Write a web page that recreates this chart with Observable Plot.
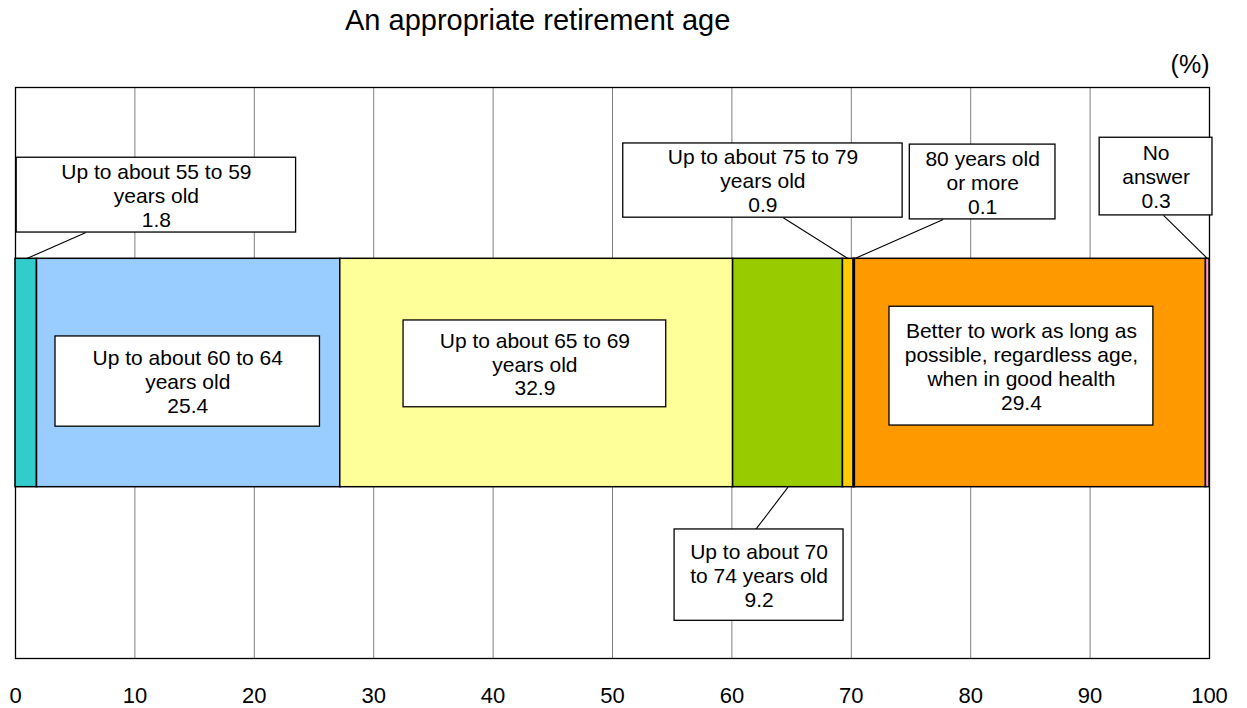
<!DOCTYPE html>
<html>
<head>
<meta charset="utf-8">
<script src="https://cdn.jsdelivr.net/npm/d3@7"></script>
<script src="https://cdn.jsdelivr.net/npm/@observablehq/plot@0.6"></script>
<style>
  html, body { margin: 0; padding: 0; background: #ffffff; }
  #header {
    position: relative;
    height: 48px;
    font-family: "Liberation Sans", Arial, sans-serif;
  }
  #title {
    position: absolute;
    left: 345px;
    top: 6px;
    font-size: 29px;
    line-height: 29px;
    color: #000;
    white-space: nowrap;
  }
  #chart svg { display: block; }
</style>
</head>
<body>
<div id="header"><div id="title">An appropriate retirement age</div></div>
<div id="chart"></div>
<script>
// Survey answers: share of respondents (%) for each retirement-age answer
const categories = [
  "Up to about 55 to 59 years old",
  "Up to about 60 to 64 years old",
  "Up to about 65 to 69 years old",
  "Up to about 70 to 74 years old",
  "Up to about 75 to 79 years old",
  "80 years old or more",
  "Better to work as long as possible, regardless age, when in good health",
  "No answer"
];
const values = [1.8, 25.4, 32.9, 9.2, 0.9, 0.1, 29.4, 0.3];

// Line-broken label text for each callout (the value is appended below it)
const labelLines = [
  ["Up to about 55 to 59", "years old"],
  ["Up to about 60 to 64", "years old"],
  ["Up to about 65 to 69", "years old"],
  ["Up to about 70", "to 74 years old"],
  ["Up to about 75 to 79", "years old"],
  ["80 years old", "or more"],
  ["Better to work as long as", "possible, regardless age,", "when in good health"],
  ["No", "answer"]
];

const tickValues = [0, 10, 20, 30, 40, 50, 60, 70, 80, 90, 100];

// Segment fills
const colors = ["#33CCCC", "#99CCFF", "#FFFF99", "#99CC00", "#FFCC00", "#993300", "#FF9900", "#FF99CC"];

// Callout boxes: x in %, y as fraction of the frame height (bar spans 0.3–0.7);
// "leader" says whether a line joins the box to its segment (from top or bottom edge)
const calloutLayout = [
  { x1: 0.1, x2: 23.5, y1: 0.746, y2: 0.877, leader: "top", lx: 5.9 },
  { x1: 3.35, x2: 25.5, y1: 0.406, y2: 0.564, leader: null },
  { x1: 32.5, x2: 54.5, y1: 0.440, y2: 0.592, leader: null },
  { x1: 55.2, x2: 69.35, y1: 0.066, y2: 0.226, leader: "bottom", lx: 62.0 },
  { x1: 50.9, x2: 74.3, y1: 0.772, y2: 0.902, leader: "top", lx: 64.3 },
  { x1: 74.9, x2: 87.1, y1: 0.769, y2: 0.900, leader: "top", lx: 77.7 },
  { x1: 73.2, x2: 95.3, y1: 0.408, y2: 0.616, leader: null },
  { x1: 90.8, x2: 100.25, y1: 0.776, y2: 0.912, leader: "top", lx: 96.15 }
];
const barBottom = 0.3, barTop = 0.7;

// Cumulative extents of each stacked segment
let acc = 0;
const segments = values.map((v, i) => {
  const x1 = acc;
  acc += v;
  return { category: categories[i], value: v, x1, x2: acc, color: colors[i] };
});

const callouts = segments.map((s, i) => ({
  ...calloutLayout[i],
  text: [...labelLines[i], s.value.toFixed(1)].join("\n"),
  mid: (s.x1 + s.x2) / 2
}));
const leaders = callouts.filter(c => c.leader).map(c => ({
  x1: c.lx,
  y1: c.leader === "top" ? c.y1 : c.y2,
  x2: c.mid,
  y2: c.leader === "top" ? barTop : barBottom
}));

const font = "'Liberation Sans', Arial, sans-serif";

const chart = Plot.plot({
  width: 1247,
  height: 660,
  marginTop: 39,
  marginBottom: 50,
  marginLeft: 15,
  marginRight: 38,
  style: { fontFamily: font, background: "#ffffff", color: "#000" },
  x: { domain: [0, 100], axis: null },
  y: { domain: [0, 1], axis: null },
  marks: [
    Plot.ruleX(tickValues.slice(1, -1), { y1: 0, y2: 1, stroke: "#808080", strokeWidth: 1 }),
    Plot.frame({ stroke: "#000", strokeWidth: 1.3 }),
    Plot.rect(segments, {
      x1: "x1", x2: "x2", y1: barBottom, y2: barTop,
      fill: "color", stroke: "#000", strokeWidth: 1.5
    }),
    Plot.link(leaders, { x1: "x1", y1: "y1", x2: "x2", y2: "y2", stroke: "#000", strokeWidth: 1.1 }),
    Plot.rect(callouts, {
      x1: "x1", x2: "x2", y1: "y1", y2: "y2",
      fill: "#ffffff", stroke: "#000", strokeWidth: 1.3
    }),
    Plot.text(callouts, {
      x: d => (d.x1 + d.x2) / 2,
      y: d => (d.y1 + d.y2) / 2,
      text: "text",
      lineAnchor: "middle",
      lineHeight: 1.14,
      fontSize: 21,
      fill: "#000"
    }),
    Plot.axisX(tickValues, {
      tickSize: 0, tickPadding: 29, fontSize: 22, fill: "#000", tickFormat: d => String(d)
    }),
    Plot.text(["(%)"], {
      frameAnchor: "top-right", textAnchor: "end", lineAnchor: "bottom",
      dy: -15, fontSize: 25, fill: "#000"
    })
  ]
});

document.getElementById("chart").appendChild(chart);
</script>
</body>
</html>
